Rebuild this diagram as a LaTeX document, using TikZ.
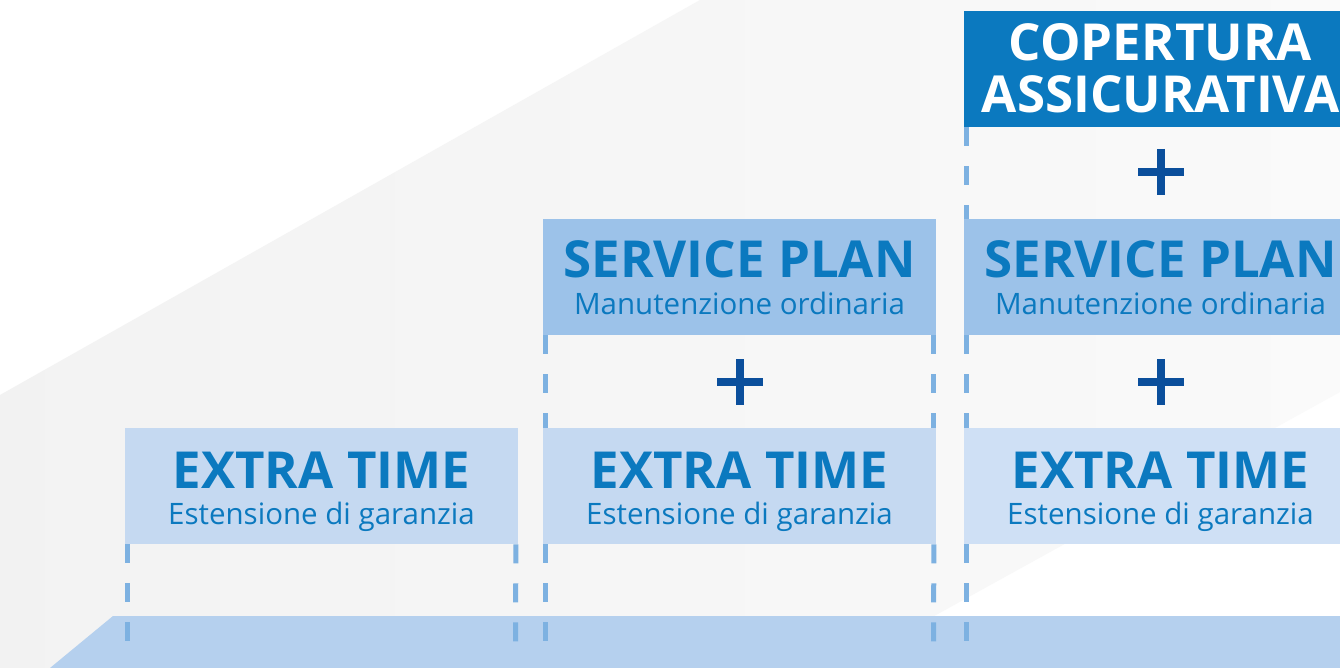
\documentclass[tikz,border=0pt]{standalone}
\usepackage{fontspec}
\setmainfont{Open Sans}
\definecolor{darkbox}{HTML}{0B79BF}
\definecolor{spfill}{HTML}{9CC2E9}
\definecolor{etfill}{HTML}{C5D9F1}
\definecolor{etfilllight}{HTML}{CFE0F5}
\definecolor{titleblue}{HTML}{0B79BF}
\definecolor{plusblue}{HTML}{0B4F9C}
\definecolor{dashblue}{HTML}{7DB1E1}
\definecolor{bandblue}{HTML}{B5D0EE}
\tikzset{
  box/.style={minimum width=393pt, minimum height=116pt, inner sep=0pt, anchor=north west, draw=none},
  ttl/.style={anchor=base, inner sep=0pt, text=titleblue, font=\fontsize{51}{51}\selectfont\bfseries},
  sub/.style={anchor=base, inner sep=0pt, text=titleblue, font=\fontsize{29.5}{29.5}\selectfont},
  pluss/.style={minimum size=46pt, inner sep=0pt, path picture={
    \draw[plusblue, line width=8pt] (path picture bounding box.north) -- (path picture bounding box.south)
      (path picture bounding box.west) -- (path picture bounding box.east);}},
  dashline/.style={draw=dashblue, line width=5pt, dash pattern=on 19pt off 20pt}
}
\begin{document}
\begin{tikzpicture}[x=1pt,y=-1pt]
\useasboundingbox (0,0) rectangle (1340,668);
\fill[white] (0,0) rectangle (1340,668);
\shade[left color=black!5, right color=black!2] (0,395) -- (700,0) -- (1340,0) -- (1340,392) -- (840,668) -- (0,668) -- cycle;
\fill[bandblue] (113,616) -- (1340,616) -- (1340,668) -- (50,668) -- cycle;

% column 1
\node[box, fill=etfill] (et1) at (125,428) {};
\node[ttl] (et1t) at (321.5,488) {EXTRA TIME};
\node[sub] (et1s) at (321.5,524) {Estensione di garanzia};

% column 2
\node[box, fill=spfill] (sp2) at (543,219) {};
\node[ttl] (sp2t) at (739.5,277) {SERVICE PLAN};
\node[sub] (sp2s) at (739.5,314) {Manutenzione ordinaria};
\node[pluss] (p2) at (740,382) {};
\node[box, fill=etfill] (et2) at (543,428) {};
\node[ttl] (et2t) at (739.5,488) {EXTRA TIME};
\node[sub] (et2s) at (739.5,524) {Estensione di garanzia};

% column 3
\node[box, fill=darkbox] (cv3) at (964,11) {};
\node[ttl, text=white] (cv3a) at (1160.5,61) {COPERTURA};
\node[ttl, text=white] (cv3b) at (1160.5,113) {ASSICURATIVA};
\node[pluss] (p3a) at (1161,172) {};
\node[box, fill=spfill] (sp3) at (964,219) {};
\node[ttl] (sp3t) at (1160.5,277) {SERVICE PLAN};
\node[sub] (sp3s) at (1160.5,314) {Manutenzione ordinaria};
\node[pluss] (p3b) at (1161,382) {};
\node[box, fill=etfilllight] (et3) at (964,428) {};
\node[ttl] (et3t) at (1160.5,488) {EXTRA TIME};
\node[sub] (et3s) at (1160.5,524) {Estensione di garanzia};

\coordinate (b1l) at (127.5,644);
\coordinate (b1r) at (515.5,644);
\coordinate (b2l) at (545.5,644);
\coordinate (b2r) at (933.5,644);
\coordinate (b3l) at (966.5,644);

% dashed guides
\draw[dashline] ([xshift=2.5pt]et1.south west) -- (b1l);
\draw[dashline] ([xshift=-2.5pt]et1.south east) -- (b1r);
\draw[dashline] ([xshift=2.5pt]sp2.south west) -- ([xshift=2.5pt]et2.north west);
\draw[dashline] ([xshift=-2.5pt]sp2.south east) -- ([xshift=-2.5pt]et2.north east);
\draw[dashline] ([xshift=2.5pt]et2.south west) -- (b2l);
\draw[dashline] ([xshift=-2.5pt]et2.south east) -- (b2r);
\draw[dashline] ([xshift=2.5pt]cv3.south west) -- ([xshift=2.5pt]sp3.north west);
\draw[dashline] ([xshift=2.5pt]sp3.south west) -- ([xshift=2.5pt]et3.north west);
\draw[dashline] ([xshift=2.5pt]et3.south west) -- (b3l);
\end{tikzpicture}
\end{document}
